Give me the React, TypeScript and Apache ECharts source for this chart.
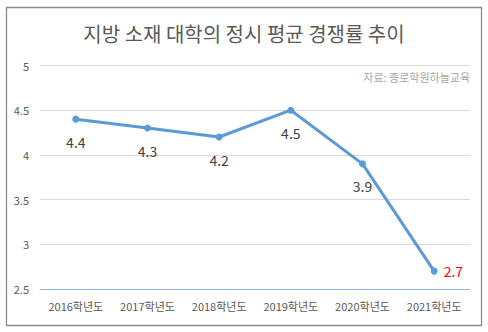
import React, { useEffect, useRef } from "react";
import * as echarts from "echarts";

const titleText = "지방 소재 대학의 정시 평균 경쟁률 추이";
const sourceText = "자료: 종로학원하늘교육";
const categories = ["2016학년도", "2017학년도", "2018학년도", "2019학년도", "2020학년도", "2021학년도"];
const values = [4.4, 4.3, 4.2, 4.5, 3.9, 2.7];
const yMin = 2.5;
const yMax = 5;
const yInterval = 0.5;

const FONT = "'Noto Sans CJK KR', 'Noto Sans', sans-serif";

export default function App() {
  const ref = useRef<HTMLDivElement>(null);
  useEffect(() => {
    if (!ref.current) return;
    const chart = echarts.init(ref.current, undefined, { renderer: "svg" });
    const lastIdx = values.length - 1;
    chart.setOption({
      animation: false,
      backgroundColor: "#ffffff",
      textStyle: { fontFamily: FONT },
      title: {
        text: titleText,
        left: "center",
        top: 18,
        textStyle: { fontFamily: FONT, fontSize: 20, fontWeight: "normal", color: "#595959" },
      },
      graphic: [
        {
          type: "rect",
          shape: { x: 6.5, y: 7.5, width: 475, height: 318 },
          style: { fill: "none", stroke: "#8c8c8c", lineWidth: 1.3 },
          silent: true,
        },
        {
          type: "text",
          right: 18,
          top: 71,
          style: { text: sourceText, fontFamily: FONT, fontSize: 11, fill: "#a6a6a6" },
        },
      ],
      grid: { left: 40, right: 18, top: 65.5, bottom: 43, containLabel: false },
      xAxis: {
        type: "category",
        data: categories,
        boundaryGap: true,
        axisLine: { show: true, lineStyle: { color: "#8fb4de", width: 1 } },
        axisTick: { show: false },
        axisLabel: { color: "#595959", fontSize: 11, margin: 11, fontFamily: FONT, interval: 0 },
      },
      yAxis: {
        type: "value",
        min: yMin,
        max: yMax,
        interval: yInterval,
        axisLine: { show: false },
        axisTick: { show: false },
        axisLabel: {
          color: "#595959",
          fontSize: 11,
          margin: 11,
          fontFamily: FONT,
          formatter: (v: number) => String(v),
        },
        splitLine: { lineStyle: { color: "#d9d9d9", width: 1 } },
      },
      series: [
        {
          type: "line",
          data: values.map((v, i) =>
            i === lastIdx
              ? {
                  value: v,
                  label: { position: "right", color: "#ff0000", distance: 6 },
                }
              : v
          ),
          symbol: "circle",
          symbolSize: 7,
          lineStyle: { color: "#5b9bd5", width: 3 },
          itemStyle: { color: "#5b9bd5" },
          label: {
            show: true,
            position: "bottom",
            distance: 12,
            fontSize: 14,
            color: "#404040",
            fontFamily: FONT,
            formatter: (p: any) => Number(p.value).toFixed(1),
          },
        },
      ],
    });
    return () => chart.dispose();
  }, []);
  return (
    <div
      ref={ref}
      style={{ position: "fixed", left: 0, top: 0, width: 488, height: 332, background: "#fff" }}
    />
  );
}
